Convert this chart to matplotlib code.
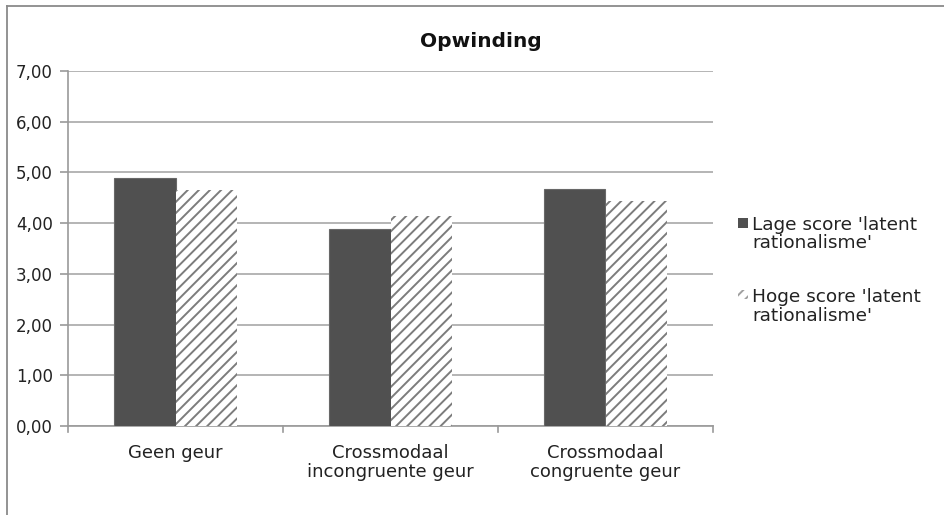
import matplotlib
matplotlib.use("Agg")
import matplotlib.pyplot as plt
import matplotlib.transforms as mtransforms
from matplotlib.patches import Rectangle
from matplotlib.lines import Line2D
import numpy as np

categories = ["Geen geur", "Crossmodaal\nincongruente geur", "Crossmodaal\ncongruente geur"]
series_names = ["Lage score 'latent\nrationalisme'", "Hoge score 'latent\nrationalisme'"]
lage = [4.90, 3.89, 4.68]
hoge = [4.65, 4.14, 4.44]
yticks = [0, 1, 2, 3, 4, 5, 6, 7]
ytick_labels = ["0,00", "1,00", "2,00", "3,00", "4,00", "5,00", "6,00", "7,00"]

plt.rcParams["font.family"] = ["DejaVu Sans"]
plt.rcParams["hatch.linewidth"] = 1.4
plt.rcParams["hatch.color"] = "#7c7c7c"

W, H = 945, 515
fig = plt.figure(figsize=(W / 100, H / 100), dpi=100)
ax = fig.add_axes([68 / W, 1 - 426 / H, (713 - 68) / W, (426 - 71) / H])

x = np.arange(len(categories))
bw = 0.285
dark = "#505050"
text_c = "#222222"
ax.bar(x - bw / 2, lage, bw, color=dark, edgecolor="#686868", linewidth=0.8, zorder=3)
ax.bar(x + bw / 2, hoge, bw, color="white", edgecolor="#7c7c7c", linewidth=0,
       hatch="///", zorder=3)

ax.set_xlim(-0.5, len(categories) - 0.5)
ax.set_ylim(0, 7)
ax.set_yticks(yticks)
ax.set_yticklabels(ytick_labels, fontsize=12, color=text_c)
ax.set_xticks(x)
ax.set_xticklabels([])
ax.tick_params(axis="x", length=0)
ax.tick_params(axis="y", length=6, color="#9a9a9a", width=1.2, pad=5)

# category labels, one line at a time on fixed baselines
blend = mtransforms.blended_transform_factory(ax.transData, fig.transFigure)
for xi, lab in zip(x, categories):
    for j, line in enumerate(lab.split("\n")):
        ax.text(xi, 1 - (458.5 + 18.4 * j) / H, line, transform=blend,
                ha="center", va="baseline", fontsize=13, color=text_c)

# category separator ticks on the x axis
for b in np.arange(-0.5, len(categories), 1.0):
    ax.plot([b, b], [0, -0.12], color="#9a9a9a", lw=1.2, clip_on=False, zorder=4)

ax.grid(axis="y", color="#a8a8a8", lw=1.2, zorder=0)
for s in ["top", "right"]:
    ax.spines[s].set_visible(False)
for s in ["left", "bottom"]:
    ax.spines[s].set_color("#9a9a9a")
    ax.spines[s].set_linewidth(1.2)

fig.text(481 / W, 1 - 47.3 / H, "Opwinding", ha="center", va="baseline",
         fontsize=14.5, fontweight="bold", color="#111111")

# legend
entry_base = [230.0, 302.3]
for i, (name, yb) in enumerate(zip(series_names, entry_base)):
    if i == 0:
        p = Rectangle((738 / W, 1 - 227.5 / H), 10 / W, 10 / H,
                      transform=fig.transFigure, facecolor=dark, edgecolor="none")
    else:
        p = Rectangle((738 / W, 1 - 298.5 / H), 10 / W, 9 / H,
                      transform=fig.transFigure, facecolor="white", edgecolor="#a0a0a0",
                      linewidth=0, hatch="///")
    fig.patches.append(p)
    for j, line in enumerate(name.split("\n")):
        fig.text(752 / W, 1 - (yb + 18.5 * j) / H, line, ha="left", va="baseline",
                 fontsize=13.3, color=text_c)

# chart frame
fig.add_artist(Line2D([7 / W, 7 / W], [0, 1 - 6 / H], transform=fig.transFigure,
                      color="#8a8a8a", lw=1.3))
fig.add_artist(Line2D([7 / W, 1], [1 - 6 / H, 1 - 6 / H], transform=fig.transFigure,
                      color="#8a8a8a", lw=1.3))

fig.savefig("out.png", dpi=100)
